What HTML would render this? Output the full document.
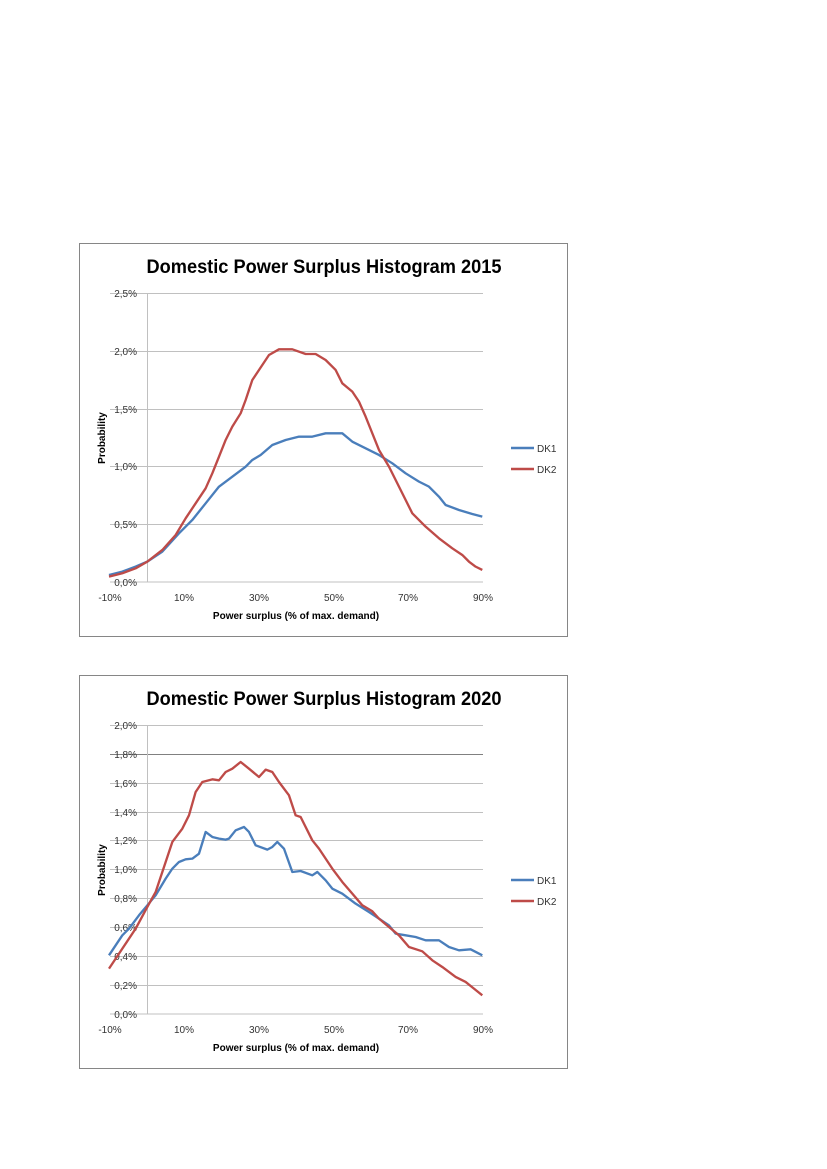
<!DOCTYPE html>
<html><head><meta charset="utf-8"><style>
body{margin:0;background:#fff;width:827px;height:1169px;overflow:hidden}
svg{position:absolute;left:0;top:0}
text{font-family:"Liberation Sans",sans-serif}
</style></head><body>
<svg width="827" height="1169" viewBox="0 0 827 1169">
<!-- Chart 1 -->
<rect x="79.5" y="243.5" width="488" height="393" fill="#fff" stroke="#868686"/>
<text x="324" y="273" font-size="19" font-weight="bold" text-anchor="middle" textLength="355" lengthAdjust="spacingAndGlyphs">Domestic Power Surplus Histogram 2015</text>
<g stroke="#c0c0c0" stroke-width="1">
<line x1="110" x2="483" y1="293.5" y2="293.5"/><line x1="110" x2="483" y1="351.5" y2="351.5"/><line x1="110" x2="483" y1="409.5" y2="409.5"/><line x1="110" x2="483" y1="466.5" y2="466.5"/><line x1="110" x2="483" y1="524.5" y2="524.5"/><line x1="110" x2="483" y1="582" y2="582"/>
<line x1="147.5" x2="147.5" y1="293" y2="582"/>
</g>
<g font-size="10" fill="#333" text-anchor="end">
<text x="137" y="297">2,5%</text><text x="137" y="355">2,0%</text><text x="137" y="413">1,5%</text><text x="137" y="470">1,0%</text><text x="137" y="528">0,5%</text><text x="137" y="586">0,0%</text>
</g>
<g font-size="10" fill="#333" text-anchor="middle">
<text x="110" y="601">-10%</text><text x="184" y="601">10%</text><text x="259" y="601">30%</text><text x="334" y="601">50%</text><text x="408" y="601">70%</text><text x="483" y="601">90%</text>
</g>
<text x="296" y="619" font-size="10" font-weight="bold" text-anchor="middle">Power surplus  (% of max. demand)</text>
<text transform="translate(105,438) rotate(-90)" font-size="10" font-weight="bold" text-anchor="middle">Probability</text>
<line x1="511" x2="534" y1="448" y2="448" stroke="#4a7ebb" stroke-width="2.5"/>
<text x="537" y="452" font-size="10" fill="#333">DK1</text>
<line x1="511" x2="534" y1="469" y2="469" stroke="#be4b48" stroke-width="2.5"/>
<text x="537" y="473" font-size="10" fill="#333">DK2</text>
<g transform="translate(79,240) scale(0.3333)" fill="none" stroke-width="7" stroke-linejoin="round">
<polyline stroke="#4a7ebb" points="90,1005 130,995 170,980 205,965 250,935 300,880 340,840 380,790 420,740 460,710 500,680 520,660 545,645 580,615 620,600 660,590 700,590 740,580 790,580 820,605 860,625 900,645 940,670 980,700 1020,725 1050,740 1080,770 1100,795 1140,810 1180,822 1210,830"/>
<polyline stroke="#be4b48" points="90,1010 130,1000 170,985 205,965 250,930 290,885 320,835 350,790 380,745 400,700 420,650 440,600 460,560 485,520 500,480 520,420 540,390 570,345 600,328 640,328 680,342 710,342 740,360 770,390 790,430 820,455 840,485 860,530 880,580 900,630 930,680 960,740 1000,820 1040,860 1080,895 1120,925 1150,945 1170,965 1190,980 1210,990"/>
</g>
<!-- Chart 2 -->
<rect x="79.5" y="675.5" width="488" height="393" fill="#fff" stroke="#868686"/>
<text x="324" y="705" font-size="19" font-weight="bold" text-anchor="middle" textLength="355" lengthAdjust="spacingAndGlyphs">Domestic Power Surplus Histogram 2020</text>
<g stroke="#c0c0c0" stroke-width="1">
<line x1="110" x2="483" y1="725.5" y2="725.5"/><line x1="110" x2="483" y1="754.5" y2="754.5" stroke="#808080"/><line x1="110" x2="483" y1="783.5" y2="783.5"/><line x1="110" x2="483" y1="812.5" y2="812.5"/><line x1="110" x2="483" y1="840.5" y2="840.5"/><line x1="110" x2="483" y1="869.5" y2="869.5"/><line x1="110" x2="483" y1="898.5" y2="898.5"/><line x1="110" x2="483" y1="927.5" y2="927.5"/><line x1="110" x2="483" y1="956.5" y2="956.5"/><line x1="110" x2="483" y1="985.5" y2="985.5"/><line x1="110" x2="483" y1="1014" y2="1014"/>
<line x1="147.5" x2="147.5" y1="725" y2="1014"/>
</g>
<g font-size="10" fill="#333" text-anchor="end">
<text x="137" y="729">2,0%</text><text x="137" y="758">1,8%</text><text x="137" y="787">1,6%</text><text x="137" y="816">1,4%</text><text x="137" y="844">1,2%</text><text x="137" y="873">1,0%</text><text x="137" y="902">0,8%</text><text x="137" y="931">0,6%</text><text x="137" y="960">0,4%</text><text x="137" y="989">0,2%</text><text x="137" y="1018">0,0%</text>
</g>
<g font-size="10" fill="#333" text-anchor="middle">
<text x="110" y="1033">-10%</text><text x="184" y="1033">10%</text><text x="259" y="1033">30%</text><text x="334" y="1033">50%</text><text x="408" y="1033">70%</text><text x="483" y="1033">90%</text>
</g>
<text x="296" y="1051" font-size="10" font-weight="bold" text-anchor="middle">Power surplus  (% of max. demand)</text>
<text transform="translate(105,870) rotate(-90)" font-size="10" font-weight="bold" text-anchor="middle">Probability</text>
<line x1="511" x2="534" y1="880" y2="880" stroke="#4a7ebb" stroke-width="2.5"/>
<text x="537" y="884" font-size="10" fill="#333">DK1</text>
<line x1="511" x2="534" y1="901" y2="901" stroke="#be4b48" stroke-width="2.5"/>
<text x="537" y="905" font-size="10" fill="#333">DK2</text>
<g transform="translate(79,672) scale(0.3333)" fill="none" stroke-width="7" stroke-linejoin="round">
<polyline stroke="#4a7ebb" points="90,850 110,820 130,790 150,770 180,730 205,700 230,670 260,620 280,590 300,570 320,562 340,560 360,545 380,480 400,495 420,500 440,503 450,500 470,475 495,465 510,480 530,520 565,533 580,525 595,510 615,530 640,600 665,597 700,610 715,600 740,625 760,650 790,665 830,695 870,720 900,740 930,760 950,785 980,790 1010,795 1040,805 1080,805 1110,825 1140,835 1175,832 1210,850"/>
<polyline stroke="#be4b48" points="90,890 130,830 170,770 205,705 230,660 250,600 280,510 310,470 330,430 350,360 370,330 400,322 420,325 440,300 460,290 485,270 510,290 540,315 560,293 580,300 600,330 630,370 650,430 665,435 700,505 720,530 760,590 790,630 820,665 850,700 880,718 900,740 930,765 960,790 990,825 1030,838 1060,865 1090,885 1130,915 1160,930 1185,950 1210,970"/>
</g>
</svg>
</body></html>
